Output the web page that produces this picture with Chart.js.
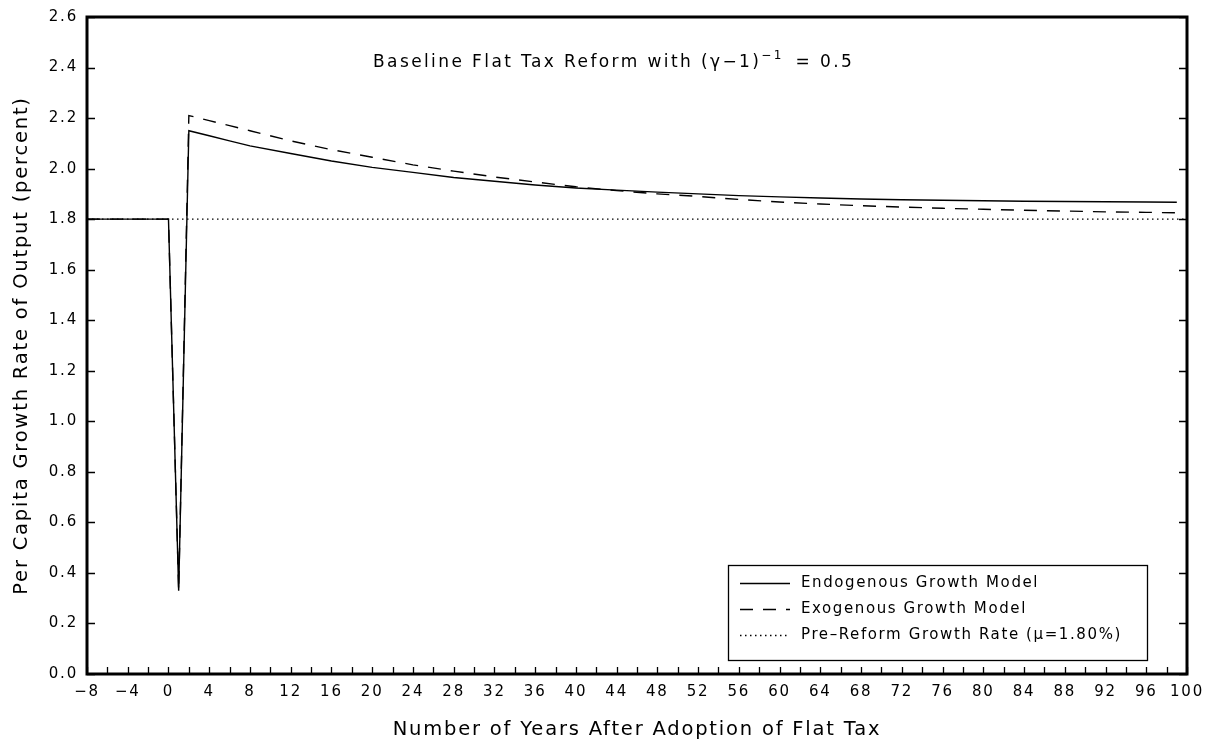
<!DOCTYPE html>
<html><head><meta charset="utf-8">
<script src="https://cdn.jsdelivr.net/npm/chart.js@4/dist/chart.umd.min.js"></script>
<style>html,body{margin:0;padding:0;background:#fff}</style>
</head><body>
<canvas id="c" width="1206" height="742"></canvas>
<script>
// ---- data ----
const endoYears  = [-8, -4, 0, 1, 2, 4, 6, 8, 12, 16, 20, 24, 28, 32, 36, 40, 44, 48, 52, 56, 60, 64, 68, 72, 76, 80, 84, 88, 92, 96, 99];
const endoValues = [1.80, 1.80, 1.80, 0.33, 2.15, 2.13, 2.11, 2.09, 2.06, 2.03, 2.005, 1.985, 1.965, 1.95, 1.935, 1.923, 1.915, 1.907, 1.90, 1.893, 1.888, 1.884, 1.880, 1.877, 1.875, 1.873, 1.871, 1.870, 1.869, 1.868, 1.867];
const exoYears   = [-8, -4, 0, 1, 2, 4, 6, 8, 12, 16, 20, 24, 28, 32, 36, 40, 44, 48, 52, 56, 60, 64, 68, 72, 76, 80, 84, 88, 92, 96, 99];
const exoValues  = [1.80, 1.80, 1.80, 0.33, 2.21, 2.19, 2.17, 2.15, 2.11, 2.075, 2.045, 2.015, 1.99, 1.967, 1.947, 1.928, 1.913, 1.90, 1.89, 1.878, 1.868, 1.86, 1.853, 1.848, 1.843, 1.839, 1.835, 1.832, 1.829, 1.827, 1.825];
const preYears   = [-8, 100];
const preValues  = [1.80, 1.80];
const xTickLabels = [-8, -4, 0, 4, 8, 12, 16, 20, 24, 28, 32, 36, 40, 44, 48, 52, 56, 60, 64, 68, 72, 76, 80, 84, 88, 92, 96, 100];
const xMinorTicks = [];
for (let v = -8; v <= 100; v += 2) xMinorTicks.push(v);
const yTickLabels = [0.0, 0.2, 0.4, 0.6, 0.8, 1.0, 1.2, 1.4, 1.6, 1.8, 2.0, 2.2, 2.4, 2.6];
const seriesLabels = ['Endogenous Growth Model', 'Exogenous Growth Model', 'Pre\u2013Reform Growth Rate (\u03BC=1.80%)'];

const toPts = (xs, ys) => xs.map((x, i) => ({x, y: ys[i]}));
const FONT = '"DejaVu Sans", Verdana, sans-serif';
const SPACING = '1.8px';

const spacingPlugin = {
  id: 'spacing',
  beforeLayout(chart) { chart.ctx.letterSpacing = SPACING; },
  beforeDraw(chart) { chart.ctx.letterSpacing = SPACING; }
};

const framePlugin = {
  id: 'frame',
  afterDraw(chart) {
    const {ctx, chartArea: a, scales: {x, y}} = chart;
    ctx.save();
    ctx.strokeStyle = '#000';
    ctx.lineWidth = 1.3;
    ctx.beginPath();
    yTickLabels.forEach(v => {
      const py = Math.round(y.getPixelForValue(v)) + 0.5;
      ctx.moveTo(a.left, py); ctx.lineTo(a.left + 8, py);
      ctx.moveTo(a.right, py); ctx.lineTo(a.right - 8, py);
    });
    xMinorTicks.forEach(v => {
      const px = Math.round(x.getPixelForValue(v)) + 0.5;
      ctx.moveTo(px, a.bottom); ctx.lineTo(px, a.bottom - 7);
    });
    ctx.stroke();
    ctx.lineWidth = 3;
    ctx.strokeRect(a.left, a.top, a.right - a.left, a.bottom - a.top);

    // title inside the plot
    ctx.fillStyle = '#000';
    ctx.textBaseline = 'alphabetic';
    ctx.letterSpacing = '2.4px';
    const big = '17px ' + FONT, small = '12px ' + FONT;
    const p1 = 'Baseline Flat Tax Reform with (\u03B3\u22121)';
    const p2 = '\u22121';
    const p3 = ' = 0.5';
    ctx.font = big; const w1 = ctx.measureText(p1).width;
    ctx.font = small; const w2 = ctx.measureText(p2).width;
    let tx = 373, ty = 67;
    ctx.font = big; ctx.fillText(p1, tx, ty); tx += w1;
    ctx.font = small; ctx.fillText(p2, tx, ty - 8); tx += w2 + 4;
    ctx.font = big; ctx.fillText(p3, tx, ty);

    // legend box
    const bx = a.right - 40, bxl = a.left + 641, by = a.bottom - 109, bb = a.bottom - 14;
    ctx.lineWidth = 1.3;
    ctx.strokeRect(bxl + 0.5, by + 0.5, bx - bxl, bb - by);
    ctx.font = '15px ' + FONT;
    ctx.letterSpacing = '1.6px';
    ctx.textBaseline = 'middle';
    chart.data.datasets.forEach((ds, i) => {
      const ry = by + 18 + i * 26;
      ctx.save();
      ctx.strokeStyle = ds.borderColor;
      ctx.lineWidth = ds.borderWidth;
      ctx.setLineDash(ds.borderDash || []);
      ctx.beginPath(); ctx.moveTo(bxl + 12, ry + 0.5); ctx.lineTo(bxl + 62, ry + 0.5); ctx.stroke();
      ctx.restore();
      ctx.fillText(ds.label, bxl + 73, ry);
    });
    ctx.restore();
  }
};

new Chart(document.getElementById('c'), {
  type: 'line',
  data: {
    datasets: [
      {label: seriesLabels[0], data: toPts(endoYears, endoValues), borderColor: '#000', borderWidth: 1.4, pointRadius: 0, tension: 0, fill: false},
      {label: seriesLabels[1], data: toPts(exoYears, exoValues), borderColor: '#000', borderWidth: 1.4, borderDash: [13, 10], pointRadius: 0, tension: 0, fill: false},
      {label: seriesLabels[2], data: toPts(preYears, preValues), borderColor: '#000', borderWidth: 1.3, borderDash: [1.5, 3.5], pointRadius: 0, tension: 0, fill: false}
    ]
  },
  options: {
    responsive: false,
    animation: false,
    devicePixelRatio: 1,
    layout: {padding: {top: 17, right: 19, left: 0, bottom: 0}},
    plugins: {legend: {display: false}, tooltip: {enabled: false}, title: {display: false}},
    scales: {
      x: {
        type: 'linear', min: -8, max: 100,
        afterBuildTicks: s => { s.ticks = xTickLabels.map(v => ({value: v})); },
        afterFit: s => { s.height = 68; s.paddingLeft = 0; s.paddingRight = 0; },
        grid: {display: false, drawTicks: false},
        border: {display: false},
        ticks: {autoSkip: false, maxRotation: 0, padding: 9, color: '#000', font: {family: FONT, size: 15},
                callback: v => String(v).replace('-', '\u2212')},
        title: {display: true, text: 'Number of Years After Adoption of Flat Tax', color: '#000',
                font: {family: FONT, size: 19.5}, padding: {top: 0, bottom: 0}}
      },
      y: {
        type: 'linear', min: 0, max: 2.6,
        afterBuildTicks: s => { s.ticks = yTickLabels.map(v => ({value: v})); },
        afterFit: s => { s.width = 87; s.paddingTop = 0; s.paddingBottom = 0; },
        grid: {display: false, drawTicks: false},
        border: {display: false},
        ticks: {autoSkip: false, padding: 9, color: '#000', font: {family: FONT, size: 15},
                callback: v => Number(v).toFixed(1)},
        title: {display: true, text: 'Per Capita Growth Rate of Output (percent)', color: '#000',
                font: {family: FONT, size: 19.5}, padding: {top: 10, bottom: 0}}
      }
    }
  },
  plugins: [spacingPlugin, framePlugin]
});
</script>
</body></html>
